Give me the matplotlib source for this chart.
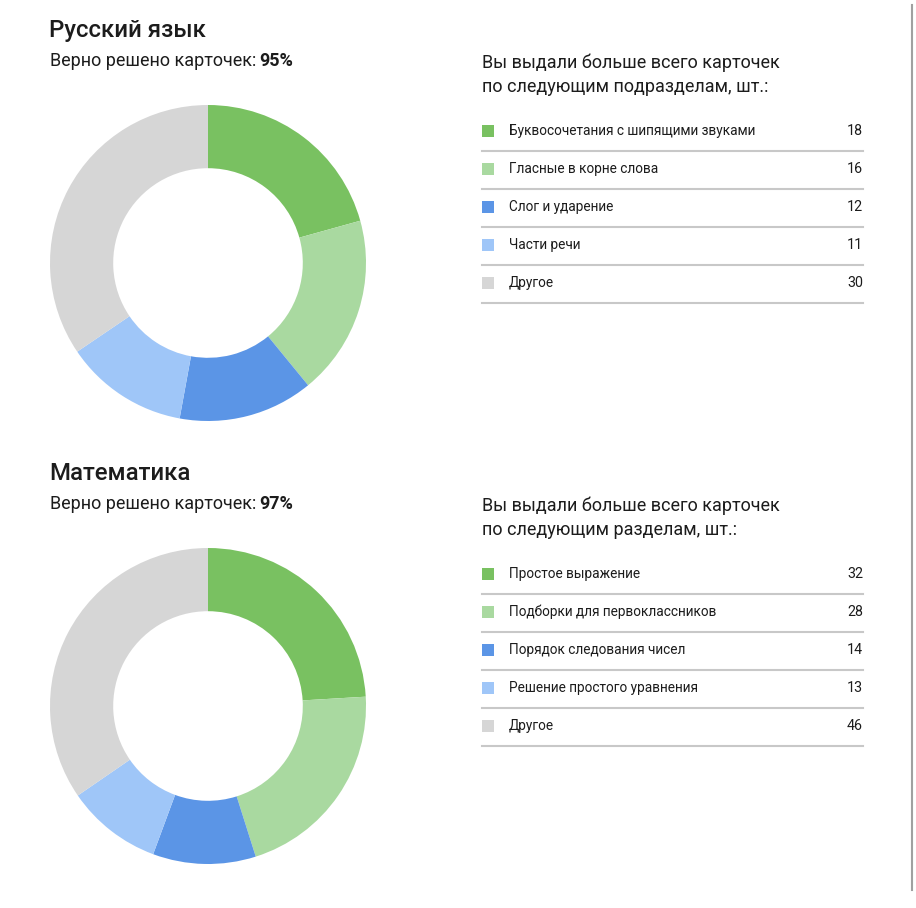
import matplotlib.pyplot as plt
from matplotlib.patches import Rectangle

plt.rcParams['font.family'] = ['Roboto', 'DejaVu Sans']

# Русский язык
rus_labels = ['Буквосочетания с шипящими звуками', 'Гласные в корне слова',
              'Слог и ударение', 'Части речи', 'Другое']
rus_values = [18, 16, 12, 11, 30]
rus_score = '95%'

# Математика
math_labels = ['Простое выражение', 'Подборки для первоклассников',
               'Порядок следования чисел', 'Решение простого уравнения', 'Другое']
math_values = [32, 28, 14, 13, 46]
math_score = '97%'

colors = ['#79c161', '#a9d9a0', '#5b95e6', '#9fc6f8', '#d6d6d6']
txt = '#1c1c1c'

W, H = 916, 908
fig = plt.figure(figsize=(W / 100, H / 100), dpi=100)
fig.patch.set_facecolor('white')


def fx(x):
    return x / W


def fy(y):
    return 1 - y / H


def block(top, title, score, header, labels, values):
    # заголовок и подзаголовок
    fig.text(fx(49), fy(top + 20), title, fontsize=17.3, fontweight='medium',
             color=txt, va='center', ha='left')
    t = fig.text(fx(50), fy(top + 51), 'Верно решено карточек: ', fontsize=13,
                 color=txt, va='center', ha='left')
    fig.canvas.draw()
    bb = t.get_window_extent()
    fig.text(bb.x1 / W - 2 / W, fy(top + 51), score, fontsize=13,
             fontweight='bold', color=txt, va='center', ha='left')

    # кольцевая диаграмма
    cy = top + 253
    r = 158
    ax = fig.add_axes([fx(208 - r), fy(cy + r), 2 * r / W, 2 * r / H])
    ax.pie(values, colors=colors, startangle=90, counterclock=False,
           wedgeprops=dict(width=0.4, linewidth=0))
    ax.set_xlim(-1, 1)
    ax.set_ylim(-1, 1)
    ax.set_aspect('auto')
    ax.axis('off')

    # легенда
    fig.text(fx(482), fy(top + 53), header[0], fontsize=13, color=txt,
             va='center', ha='left')
    fig.text(fx(482), fy(top + 77), header[1], fontsize=13, color=txt,
             va='center', ha='left')
    row0 = top + 121
    step = 38
    for i, (lab, val) in enumerate(zip(labels, values)):
        y = row0 + i * step
        fig.patches.append(Rectangle((fx(482), fy(y + 6)), 12 / W, 12 / H,
                                     transform=fig.transFigure,
                                     facecolor=colors[i], edgecolor='none'))
        fig.text(fx(509), fy(y), lab, fontsize=9.8, color=txt,
                 va='center', ha='left')
        fig.text(fx(863), fy(y), str(val), fontsize=10.3, color=txt,
                 va='center', ha='right')
        ly = y + 20
        fig.add_artist(plt.Line2D([fx(482), fx(863)], [fy(ly), fy(ly)],
                                  transform=fig.transFigure,
                                  color='#c8c8c8', linewidth=1.5))


block(10, 'Русский язык', rus_score,
      ['Вы выдали больше всего карточек', 'по следующим подразделам, шт.:'],
      rus_labels, rus_values)
block(453, 'Математика', math_score,
      ['Вы выдали больше всего карточек', 'по следующим разделам, шт.:'],
      math_labels, math_values)

# вертикальная линия справа
fig.add_artist(plt.Line2D([fx(912), fx(912)], [fy(5), fy(890)],
                          transform=fig.transFigure, color='#a0a0a0',
                          linewidth=1.5))

fig.savefig('out.png', dpi=100, facecolor='white')
